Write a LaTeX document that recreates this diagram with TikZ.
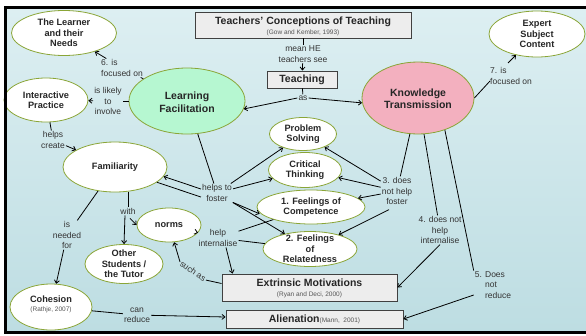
\documentclass[tikz,border=0pt]{standalone}
\usepackage{fontspec}
\setmainfont{Liberation Sans}
\usetikzlibrary{shapes.geometric,arrows.meta,calc}
\definecolor{ellgreen}{HTML}{8AA537}
\definecolor{lfmint}{HTML}{B6F7D1}
\definecolor{ktpink}{HTML}{F3B0BF}
\definecolor{boxgray}{HTML}{EDEDED}
\definecolor{bgtop}{HTML}{DDEFF2}
\definecolor{bgbot}{HTML}{BDDDE2}
\definecolor{txt}{HTML}{262626}
\definecolor{labtxt}{HTML}{333333}
\definecolor{subtxt}{HTML}{555555}
\tikzset{
  ell/.style 2 args={ellipse, draw=ellgreen, line width=0.8pt, fill=white,
    minimum width=#1pt, minimum height=#2pt, inner sep=0pt},
  etxt/.style={font=\fontsize{9.2}{10.5}\selectfont\bfseries, align=center, text=txt, inner sep=0pt},
  bigtxt/.style={font=\fontsize{10.5}{12.5}\selectfont\bfseries, align=center, text=txt, inner sep=0pt},
  subt/.style={font=\fontsize{6.5}{7.5}\selectfont, text=subtxt, inner sep=0pt},
  lab/.style={font=\fontsize{8.5}{10.3}\selectfont, align=center, inner sep=1pt, text=labtxt},
  labl/.style={font=\fontsize{8.5}{10.3}\selectfont, align=left, inner sep=1pt, text=labtxt},
  boxn/.style={draw=black!75, line width=0.9pt, fill=boxgray, inner sep=0pt},
  arr/.style={-{Straight Barb[length=3pt,width=5pt]}, line width=0.8pt},
  conn/.style={line width=0.8pt},
}
\begin{document}
\begin{tikzpicture}[x=1pt,y=-1pt]
\useasboundingbox (0,0) rectangle (586,335);
\fill[white] (0,0) rectangle (586,335);
\shade[top color=bgtop,bottom color=bgbot] (5.5,7.5) rectangle (595,332.5);

% boxes
\node[boxn, minimum width=216pt, minimum height=26pt] (tct) at (303,25) {};
\node[bigtxt] (tct-t) at (303,21.5) {Teachers' Conceptions of Teaching};
\node[subt] (tct-s) at (303,32.5) {(Gow and Kember, 1993)};
\node[boxn, minimum width=70pt, minimum height=17pt] (teaching) at (302,79.5) {};
\node[bigtxt] (teaching-t) at (teaching) {Teaching};
\node[boxn, minimum width=175pt, minimum height=27pt] (em) at (309.5,287.5) {};
\node[bigtxt] (em-t) at (309.5,283) {Extrinsic Motivations};
\node[subt] (em-s) at (309.5,294.5) {(Ryan and Deci, 2000)};
\node[boxn, minimum width=177pt, minimum height=18pt] (alien) at (314.5,319) {};
\node[bigtxt] (alien-t) at (alien) {Alienation{\mdseries\fontsize{6.5}{7.5}\selectfont\color{subtxt}(Mann,\ \ 2001)}};

% ellipses
\node[ell={105}{45}] (learner) at (64,33) {};
\node[etxt] (learner-t) at (learner) {The Learner\\and their\\Needs};
\node[ell={96}{46}] (expert) at (537,34) {};
\node[etxt] (expert-t) at (expert) {Expert\\Subject\\Content};
\node[ell={84}{44}] (ip) at (46,100) {};
\node[etxt] (ip-t) at (ip) {Interactive\\Practice};
\node[ell={116}{66}, fill=lfmint] (lf) at (187,101) {};
\node[bigtxt] (lf-t) at (187,102) {Learning\\Facilitation};
\node[ell={112}{72}, fill=ktpink] (kt) at (418,98) {};
\node[bigtxt] (kt-t) at (418,98.5) {Knowledge\\Transmission};
\node[ell={104}{50}] (fam) at (115,167) {};
\node[etxt] (fam-t) at (fam) {Familiarity};
\node[ell={67}{33}] (ps) at (303,134) {};
\node[etxt] (ps-t) at (ps) {Problem\\Solving};
\node[ell={73}{35}] (ct) at (305,170) {};
\node[etxt] (ct-t) at (ct) {Critical\\Thinking};
\node[ell={108}{34}] (comp) at (311,207) {};
\node[etxt] (comp-t) at (comp) {1. Feelings of\\Competence};
\node[ell={94}{35}] (rel) at (310,249) {};
\node[etxt] (rel-t) at (rel) {2. Feelings\\of\\Relatedness};
\node[ell={64}{34}] (norms) at (169,225) {};
\node[etxt] (norms-t) at (norms) {norms};
\node[ell={78}{39}] (others) at (124,264) {};
\node[etxt] (others-t) at (others) {Other\\Students /\\the Tutor};
\node[ell={82}{46}] (coh) at (51,307) {};
\node[etxt] (coh-t) at (51,299.5) {Cohesion};
\node[subt] (coh-s) at (51,309.5) {(Rathje, 2007)};

% labels
\node[lab] (meanHE) at (303,54) {mean HE\\teachers see};
\node[lab] (as) at (303,98) {as};
\node[labl] (lab6) at (122,68) {6. is\\focused on};
\node[lab] (likely) at (108,101) {is likely\\to\\involve};
\node[lab] (helpscreate) at (53,140) {helps\\create};
\node[lab] (hf) at (217,193) {helps to\\foster};
\node[lab] (hi) at (218,238) {help\\internalise};
\node[lab] (with) at (128,211) {with};
\node[lab] (needed) at (67,235) {is\\needed\\for};
\node[lab, rotate=-35] (suchas) at (193,271) {such as};
\node[lab] (canreduce) at (137,315) {can\\reduce};
\node[lab] (lab3) at (397,191) {3. does\\not help\\foster};
\node[lab] (lab4) at (440,230) {4. does not\\help\\internalise};
\node[labl] (lab5) at (493,285) {5. Does\\\hphantom{5. }not\\\hphantom{5. }reduce};
\node[labl] (lab7) at (511,76) {7. is\\focused on};

% connectors
\draw[conn] (tct) -- (meanHE);
\draw[arr] (meanHE) -- (teaching);
\draw[conn] (teaching) -- (as);
\draw[arr] (as.west) -- (lf.-8);
\draw[arr] (as.east) -- (kt.185);
\draw[conn] (lf) -- (lab6);
\draw[arr] (lab6) -- (learner);
\draw[conn] (lf) -- (likely);
\draw[arr] (likely) -- (ip);
\draw[conn] (ip) -- (helpscreate);
\draw[arr] (helpscreate) -- (fam);
\draw[conn] (lf) -- (hf);
\draw[arr] ([yshift=4pt]hf.west) -- (fam.-11);
\draw[conn] ([yshift=-4pt]hf.west) -- (fam.-20);
\draw[arr] (hf) -- (ps);
\draw[arr] (hf) -- (ct);
\draw[arr, shorten >=4pt] (hf.south east) -- (comp.190);
\draw[arr] (hf) -- (rel);
\draw[conn] (comp) -- (hi);
\draw[conn] (rel) -- (hi);
\draw[arr] (hi) -- (norms);
\draw[arr] ([xshift=8pt]hi.south) -- ([xshift=11pt]em.north west);
\draw[conn] ([yshift=4pt]em.west) -- (suchas.east);
\draw[arr] (suchas.west) -- (norms);
\draw[conn] (with.north) -- (with.north |- fam.south);
\draw[arr] ([shift={(2pt,-3pt)}]with.south) -- (norms.west);
\draw[arr] ([xshift=-3pt]with.south) -- (others.north);
\draw[conn] (fam) -- (needed);
\draw[arr] (needed) -- (coh);
\draw[conn] (coh) -- (canreduce);
\draw[arr] (canreduce) -- (alien);
\draw[conn] (kt) -- (lab3);
\draw[arr] (lab3) -- (ps);
\draw[arr] (lab3) -- (ct);
\draw[arr] (lab3) -- (comp);
\draw[arr] ([shift={(-8pt,-4pt)}]lab3.south) -- (rel);
\draw[conn] (kt) -- (lab4);
\draw[arr] (lab4.south) -- (em.east);
\draw[conn] (kt.-50) -- (lab5.north west);
\draw[arr] ([yshift=-10pt]lab5.west) -- (alien.east);
\coordinate (k7a) at (490,81);
\coordinate (k7b) at (508,63);
\draw[conn] (kt.east) -- (k7a);
\draw[arr] (k7b) -- (expert);

% frame
\draw[line width=3pt] (5.5,7.5) rectangle (595,332.5);
\end{tikzpicture}
\end{document}
